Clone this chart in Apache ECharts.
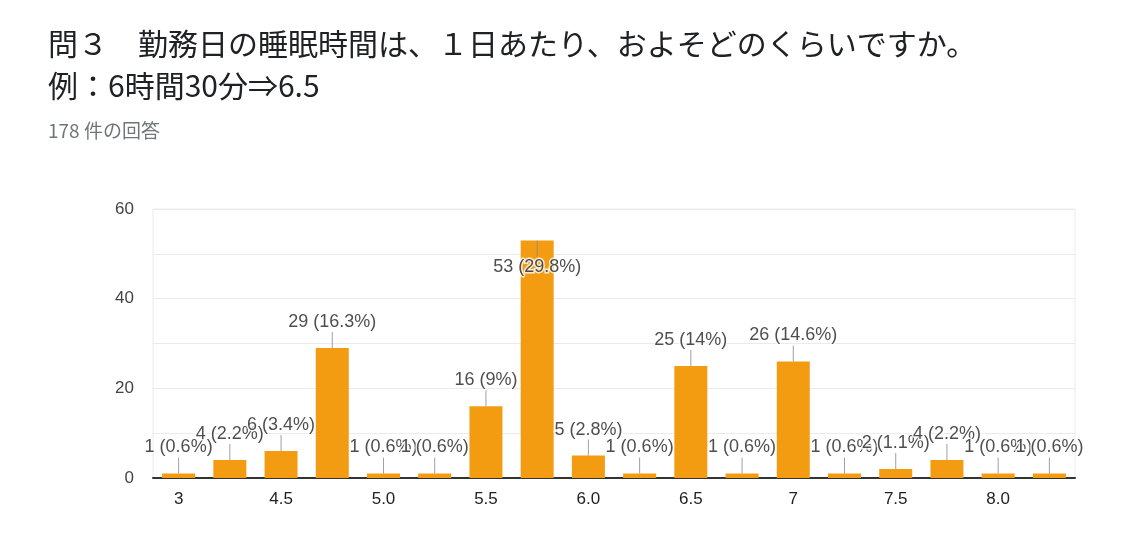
<!DOCTYPE html>
<html><head><meta charset="utf-8">
<script src="https://cdn.jsdelivr.net/npm/echarts@6/dist/echarts.min.js"></script>
<style>html,body{margin:0;padding:0;background:#fff;}#c{width:1125px;height:557px;}</style>
</head><body><div id="c"></div>
<script>
const categories = ["3","4","4.5","5","5.0","5.3","5.5","6","6.0","6.3","6.5","6.7","7","7.0","7.5","8","8.0","9"];
const counts = [1,4,6,29,1,1,16,53,5,1,25,1,26,1,2,4,1,1];
const total = 178;
const yTicks = [0,20,40,60];
const titleLine1 = "問３　勤務日の睡眠時間は、１日あたり、およそどのくらいですか。";
const titleLine2 = "例：6時間30分⇒6.5";
const subtitle = "178 件の回答";

const pct = v => parseFloat((v / total * 100).toFixed(1));
const labelText = v => v + " (" + pct(v) + "%)";
const maxIdx = counts.indexOf(Math.max(...counts));

const chart = echarts.init(document.getElementById('c'));
chart.setOption({
  animation: false,
  title: [
    {text: titleLine1 + "\n" + titleLine2, left: 43, top: 18,
     textStyle: {fontFamily: "Noto Sans CJK JP", fontSize: 30, fontWeight: 'normal', color: '#202124', lineHeight: 42}},
    {text: subtitle, left: 43, top: 116,
     textStyle: {fontFamily: "Noto Sans CJK JP", fontSize: 19, fontWeight: 'normal', color: '#70757a'}}
  ],
  grid: {left: 153, right: 50, top: 209, bottom: 79, show: true, borderColor: '#ebebeb', borderWidth: 1},
  xAxis: {
    type: 'category', data: categories,
    axisLine: {lineStyle: {color: '#333', width: 2}},
    axisTick: {show: false},
    axisLabel: {interval: 1, color: '#222', fontSize: 17, fontFamily: 'Liberation Sans', margin: 13}
  },
  yAxis: {
    type: 'value', min: 0, max: 60, interval: 10,
    axisLine: {show: false}, axisTick: {show: false},
    splitLine: {lineStyle: {color: '#ebebeb'}},
    axisLabel: {color: '#444', fontSize: 17, fontFamily: 'Liberation Sans', margin: 19,
      formatter: v => yTicks.includes(v) ? String(v) : ''}
  },
  series: [
    {
      type: 'bar', data: counts, barWidth: 33,
      itemStyle: {color: '#f39c12'},
      z: 2
    },
    {
      type: 'scatter', z: 3, silent: true,
      data: counts.map((v, i) => ({
        value: [i, v],
        symbolOffset: i === maxIdx ? [0, 8] : [0, -8],
        label: i === maxIdx ? {position: 'bottom', distance: 2} : {position: 'top', distance: 1}
      })),
      symbol: 'rect', symbolSize: [1, 16],
      itemStyle: {color: '#8a8a8a'},
      label: {
        show: true, formatter: p => labelText(p.value[1]),
        color: '#222', fontSize: 18, fontFamily: 'Liberation Sans',
        textBorderColor: '#fff', textBorderWidth: 3
      }
    }
  ]
});
</script></body></html>
